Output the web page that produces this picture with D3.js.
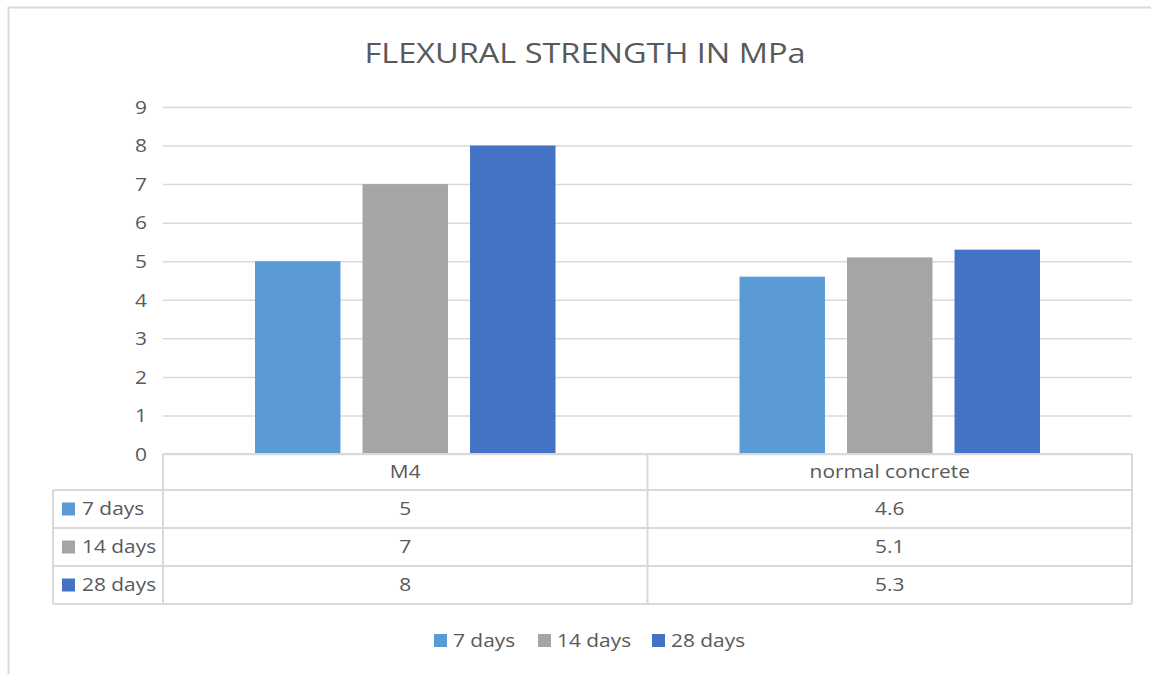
<!DOCTYPE html>
<html>
<head>
<meta charset="utf-8">
<script src="https://cdn.jsdelivr.net/npm/d3@7"></script>
<style>
  body { margin: 0; background: #fff; }
  text { font-family: "Open Sans", "Liberation Sans", sans-serif; fill: #595959; }
</style>
</head>
<body>
<div id="chart"></div>
<script>
const categories = ["M4", "normal concrete"];
const seriesNames = ["7 days", "14 days", "28 days"];
const days7 = [5, 4.6];
const days14 = [7, 5.1];
const days28 = [8, 5.3];
const yTicks = [0, 1, 2, 3, 4, 5, 6, 7, 8, 9];
const colors = ["#5b9bd5", "#a5a5a5", "#4472c4"];

const series = [days7, days14, days28];

// the reference text is slightly wider than the font; stretch it a bit
const widen = (sel) => sel.each(function() {
    const len = this.getComputedTextLength();
    d3.select(this).attr("textLength", len * 1.16).attr("lengthAdjust", "spacingAndGlyphs");
});

const renderChart = () => {
    const svg = d3.select("#chart").append("svg").attr("width", 1151).attr("height", 674);
    const margin = { top: 107, left: 163, right: 19 };
    const width = 1151 - margin.left - margin.right;
    const plotH = 454 - margin.top;
    const grid = "#d9d9d9";

    // outer frame (cut off at right/bottom)
    svg.append("path")
        .attr("d", "M8.5,700 V7.5 H1160")
        .attr("fill", "none")
        .attr("stroke", grid)
        .attr("stroke-width", 2);

    svg.append("text")
        .attr("x", 585).attr("y", 63)
        .attr("text-anchor", "middle")
        .style("font-size", "28px")
        .text("FLEXURAL STRENGTH IN MPa")
        .call(widen);

    const g = svg.append("g").attr("transform", `translate(${margin.left},${margin.top})`);

    const x = d3.scaleBand().domain(categories).range([0, width]);
    const x1 = d3.scaleBand().domain(seriesNames).range([92, x.bandwidth() - 92]).paddingInner(0.205);
    const y = d3.scaleLinear().domain([0, 9]).range([plotH, 0]);

    const yAxis = g.append("g")
        .call(d3.axisLeft(y).tickValues(yTicks).tickSize(-width).tickPadding(16).tickFormat(d3.format("d")));
    yAxis.select(".domain").remove();
    yAxis.selectAll("line").attr("stroke", grid).attr("stroke-width", 1.5);
    yAxis.selectAll("text").style("font-size", "18px").attr("fill", "#595959").attr("dy", "0.35em").call(widen);

    categories.forEach((c, ci) => {
        g.selectAll(null)
            .data(series.map((s, si) => ({ name: seriesNames[si], v: s[ci], color: colors[si] })))
            .enter().append("rect")
            .attr("x", d => x(c) + x1(d.name))
            .attr("y", d => y(d.v))
            .attr("width", x1.bandwidth())
            .attr("height", d => plotH - y(d.v))
            .attr("fill", d => d.color);
    });

    // data table
    const rowH = 38;
    const headTop = 454, headBot = 490;
    const tableLeft = 53;
    const rowsBot = headBot + rowH * seriesNames.length;
    const t = svg.append("g").attr("stroke", grid).attr("stroke-width", 2).attr("fill", "none");
    t.append("line").attr("x1", margin.left).attr("x2", margin.left + width).attr("y1", headTop).attr("y2", headTop);
    t.append("line").attr("x1", tableLeft).attr("x2", margin.left + width).attr("y1", headBot).attr("y2", headBot);
    seriesNames.forEach((s, i) => {
        const yy = headBot + rowH * (i + 1);
        t.append("line").attr("x1", tableLeft).attr("x2", margin.left + width).attr("y1", yy).attr("y2", yy);
    });
    t.append("line").attr("x1", tableLeft).attr("x2", tableLeft).attr("y1", headBot).attr("y2", rowsBot);
    [0, x.bandwidth(), width].forEach(v => {
        t.append("line").attr("x1", margin.left + v).attr("x2", margin.left + v).attr("y1", headTop).attr("y2", rowsBot);
    });

    categories.forEach(c => {
        svg.append("text")
            .attr("x", margin.left + x(c) + x.bandwidth() / 2)
            .attr("y", (headTop + headBot) / 2)
            .attr("dy", "0.35em")
            .attr("text-anchor", "middle")
            .style("font-size", "18px")
            .text(c)
            .call(widen);
    });

    seriesNames.forEach((s, si) => {
        const cy = headBot + rowH * si + rowH / 2;
        svg.append("rect").attr("x", 62).attr("y", cy - 6.5).attr("width", 13).attr("height", 13).attr("fill", colors[si]);
        svg.append("text").attr("x", 82).attr("y", cy).attr("dy", "0.35em").style("font-size", "18px").text(s).call(widen);
        categories.forEach((c, ci) => {
            svg.append("text")
                .attr("x", margin.left + x(c) + x.bandwidth() / 2)
                .attr("y", cy).attr("dy", "0.35em")
                .attr("text-anchor", "middle")
                .style("font-size", "18px")
                .text(series[si][ci])
                .call(widen);
        });
    });

    // legend
    const legendX = [434, 538, 652];
    const legend = svg.append("g");
    seriesNames.forEach((s, i) => {
        legend.append("rect").attr("x", legendX[i]).attr("y", 634).attr("width", 13).attr("height", 13).attr("fill", colors[i]);
        legend.append("text").attr("x", legendX[i] + 19).attr("y", 641).attr("dy", "0.35em").style("font-size", "18px").text(s).call(widen);
    });
};

renderChart();
</script>
</body>
</html>
